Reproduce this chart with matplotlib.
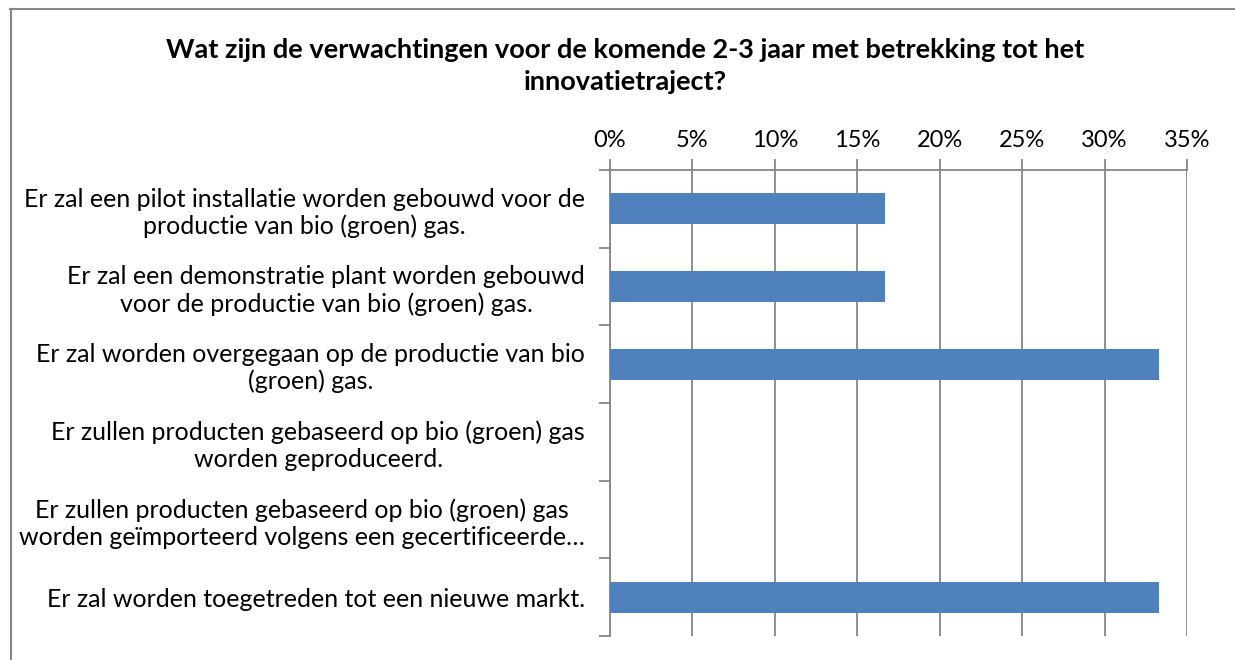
import matplotlib
matplotlib.use("Agg")
import matplotlib.pyplot as plt
from matplotlib.lines import Line2D
from matplotlib.ticker import MultipleLocator, PercentFormatter

categories = [
    "Er zal een pilot installatie worden gebouwd voor de\nproductie van bio (groen) gas.",
    "Er zal een demonstratie plant worden gebouwd\nvoor de productie van bio (groen) gas.",
    "Er zal worden overgegaan op de productie van bio\n(groen) gas.",
    "Er zullen producten gebaseerd op bio (groen) gas\nworden geproduceerd.",
    "Er zullen producten gebaseerd op bio (groen) gas\nworden geïmporteerd volgens een gecertificeerde…",
    "Er zal worden toegetreden tot een nieuwe markt.",
]
values = [16.67, 16.67, 33.33, 0.0, 0.0, 33.33]
title = "Wat zijn de verwachtingen voor de komende 2-3 jaar met betrekking tot het\ninnovatietraject?"

plt.rcParams['font.family'] = ['Lato', 'DejaVu Sans']

W, H = 1235, 660
fig = plt.figure(figsize=(W / 100, H / 100), dpi=100)
ax = fig.add_axes([610 / W, 1 - 636 / H, (1187 - 610) / W, (636 - 170) / H])

n = len(categories)
pos = list(range(n))
ax.barh(pos, values, height=0.4, color="#4F81BD", linewidth=0, zorder=3)
ax.set_ylim(n - 0.5, -0.5)
ax.set_xlim(0, 35)
ax.xaxis.set_major_locator(MultipleLocator(5))
ax.xaxis.set_major_formatter(PercentFormatter(decimals=0))
ax.xaxis.tick_top()
ax.grid(axis="x", color="#868686", linewidth=1.3, zorder=0)

ax.set_yticks([i - 0.5 for i in range(n + 1)], minor=False)
ax.set_yticklabels([])
ax.set_yticks(pos, minor=True)
ax.set_yticklabels(categories, minor=True, fontsize=18, ha="right", multialignment="center",
                   linespacing=1.2)
ax.tick_params(axis="y", which="minor", length=0, pad=18)
ax.tick_params(axis="y", which="major", length=8, color="#868686", width=1.3)
ax.tick_params(axis="x", which="major", length=8, color="#868686", width=1.3, labelsize=17, pad=6)

for s in ["right", "bottom"]:
    ax.spines[s].set_visible(False)
for s in ["left", "top"]:
    ax.spines[s].set_color("#868686")
    ax.spines[s].set_linewidth(1.3)

fig.text(625 / W, 1 - 66 / H, title, ha="center", va="center", fontsize=19.5,
         fontweight="bold", linespacing=1.4)

fig.add_artist(Line2D([10 / W, 1], [1 - 8.5 / H, 1 - 8.5 / H], transform=fig.transFigure,
                      color="#868686", linewidth=1.5))
fig.add_artist(Line2D([10.5 / W, 10.5 / W], [0, 1 - 8.5 / H], transform=fig.transFigure,
                      color="#868686", linewidth=1.5))

fig.savefig("out.png", dpi=100)
